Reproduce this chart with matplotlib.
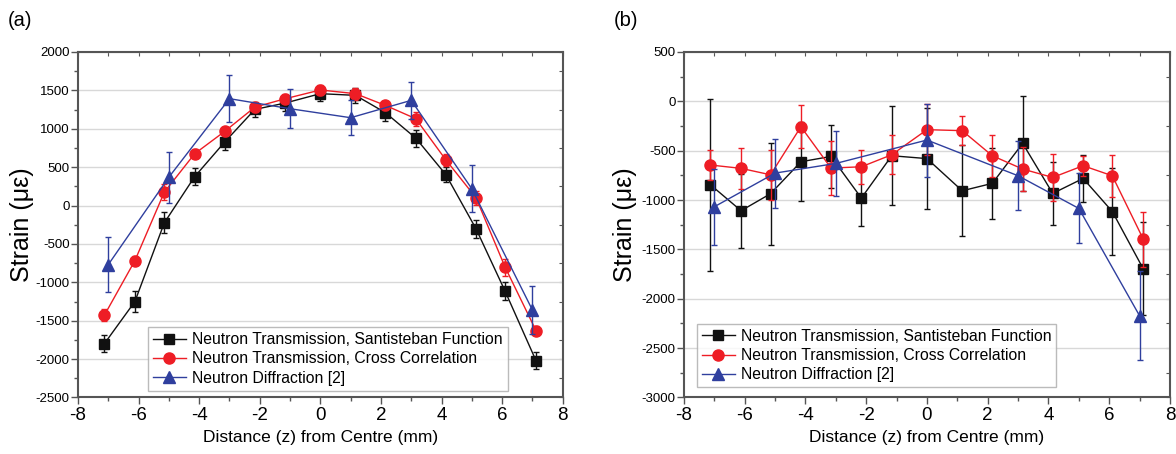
import matplotlib
matplotlib.use("Agg")
import matplotlib.pyplot as plt
from matplotlib.ticker import MultipleLocator

plt.rcParams['font.family'] = ['Liberation Sans', 'DejaVu Sans']
plt.rcParams['axes.unicode_minus'] = False

# positions (mm) of the neutron transmission points
z_nt = [-7.13, -6.12, -5.15, -4.15, -3.16, -2.16, -1.16, 0, 1.16, 2.15, 3.15, 4.14, 5.14, 6.1, 7.12]

# panel (a)
a_sf = [-1800, -1250, -225, 375, 826, 1252, 1335, 1457, 1435, 1209, 878, 404, -304, -1117, -2022]
a_sf_err = [110, 135, 135, 110, 100, 100, 100, 100, 100, 110, 110, 100, 115, 115, 110]
a_cc = [-1430, -717, 174, 674, 965, 1282, 1391, 1505, 1457, 1304, 1131, 596, 100, -804, -1630]
a_cc_err = [80, 60, 105, 60, 60, 60, 60, 60, 80, 60, 90, 80, 90, 110, 60]
za_nd = [-7, -5, -3, -1, 1, 3, 5, 7]
a_nd = [-770, 369, 1392, 1261, 1144, 1370, 218, -1361]
a_nd_err = [360, 330, 305, 255, 230, 245, 305, 310]

# panel (b)
b_sf = [-845, -1108, -936, -612, -558, -980, -551, -580, -906, -831, -426, -933, -781, -1116, -1697]
b_sf_err = [870, 375, 515, 400, 320, 280, 500, 510, 460, 360, 480, 320, 240, 440, 470]
b_cc = [-645, -679, -744, -257, -676, -663, -541, -287, -297, -551, -686, -771, -652, -754, -1396]
b_cc_err = [155, 210, 255, 215, 270, 175, 195, 260, 145, 215, 220, 240, 100, 215, 280]
zb_nd = [-7, -5, -3, 0, 3, 5, 7]
b_nd = [-1068, -727, -629, -392, -754, -1085, -2173]
b_nd_err = [385, 350, 330, 370, 350, 355, 450]

labels = ["Neutron Transmission, Santisteban Function",
          "Neutron Transmission, Cross Correlation",
          "Neutron Diffraction [2]"]
black = "#111111"
red = "#ee1d25"
blue = "#2f3f9e"
spine_col = "#555555"

fig = plt.figure(figsize=(11.76, 4.54), dpi=100)
ax1 = fig.add_axes([0.0663, 0.1245, 0.4122, 0.761])
ax2 = fig.add_axes([0.5816, 0.1245, 0.4133, 0.761])


def draw(ax, sf, sf_err, cc, cc_err, z_nd, nd, nd_err, ylim, ystep, legend_bbox, ylabel_x):
    ax.errorbar(z_nt, sf, yerr=sf_err, color=black, marker="s", ms=7, lw=1,
                capsize=2.5, elinewidth=1, capthick=1, label=labels[0], zorder=3)
    ax.errorbar(z_nt, cc, yerr=cc_err, color=red, marker="o", ms=8, lw=1,
                capsize=2.5, elinewidth=1, capthick=1, label=labels[1], zorder=4)
    ax.errorbar(z_nd, nd, yerr=nd_err, color=blue, marker="^", ms=8.5, lw=1,
                capsize=2.5, elinewidth=1, capthick=1, label=labels[2], zorder=5)

    ax.set_xlim(-8, 8)
    ax.set_ylim(*ylim)
    ax.xaxis.set_major_locator(MultipleLocator(2))
    ax.xaxis.set_minor_locator(MultipleLocator(1))
    ax.yaxis.set_major_locator(MultipleLocator(ystep))
    ax.yaxis.set_minor_locator(MultipleLocator(ystep / 2))
    ax.grid(axis="y", which="major", color="#d8d8d8", lw=1)
    ax.set_axisbelow(True)

    for sp in ax.spines.values():
        sp.set_color(spine_col)
        sp.set_linewidth(1.5)
    ax.tick_params(which="both", direction="out", color=spine_col, width=1)
    ax.tick_params(which="major", length=5)
    ax.tick_params(which="minor", length=3)
    ax.tick_params(axis="x", labelsize=13.5, pad=2)
    ax.tick_params(axis="y", labelsize=9.5, pad=1)

    top = ax.secondary_xaxis("top")
    top.xaxis.set_major_locator(MultipleLocator(1))
    top.tick_params(direction="in", length=3, color=spine_col, labeltop=False)
    top.spines["top"].set_visible(False)
    right = ax.secondary_yaxis("right")
    right.yaxis.set_major_locator(MultipleLocator(ystep / 2))
    right.tick_params(direction="in", length=3, color=spine_col, labelright=False)
    right.spines["right"].set_visible(False)

    ax.set_xlabel("Distance (z) from Centre (mm)", fontsize=12.5, labelpad=4)
    ax.set_ylabel("Strain (\u03bc\u03b5)", fontsize=18)
    ax.yaxis.set_label_coords(ylabel_x, 0.5)

    h, l = ax.get_legend_handles_labels()
    h = [x[0] for x in h]
    leg = ax.legend(h, l, loc="lower left", bbox_to_anchor=legend_bbox, fontsize=11.3,
                    frameon=True, fancybox=False, edgecolor="#aaaaaa",
                    handlelength=2.1, handletextpad=0.4, borderpad=0.3,
                    labelspacing=0.28, borderaxespad=0)
    leg.get_frame().set_linewidth(1)


draw(ax1, a_sf, a_sf_err, a_cc, a_cc_err, za_nd, a_nd, a_nd_err,
     (-2500, 2000), 500, (0.145, 0.02), -0.091)
draw(ax2, b_sf, b_sf_err, b_cc, b_cc_err, zb_nd, b_nd, b_nd_err,
     (-3000, 500), 500, (0.027, 0.03), -0.097)

fig.text(0.007, 0.955, "(a)", fontsize=14.5, va="center")
fig.text(0.522, 0.955, "(b)", fontsize=14.5, va="center")

fig.savefig("out.png", dpi=100)
